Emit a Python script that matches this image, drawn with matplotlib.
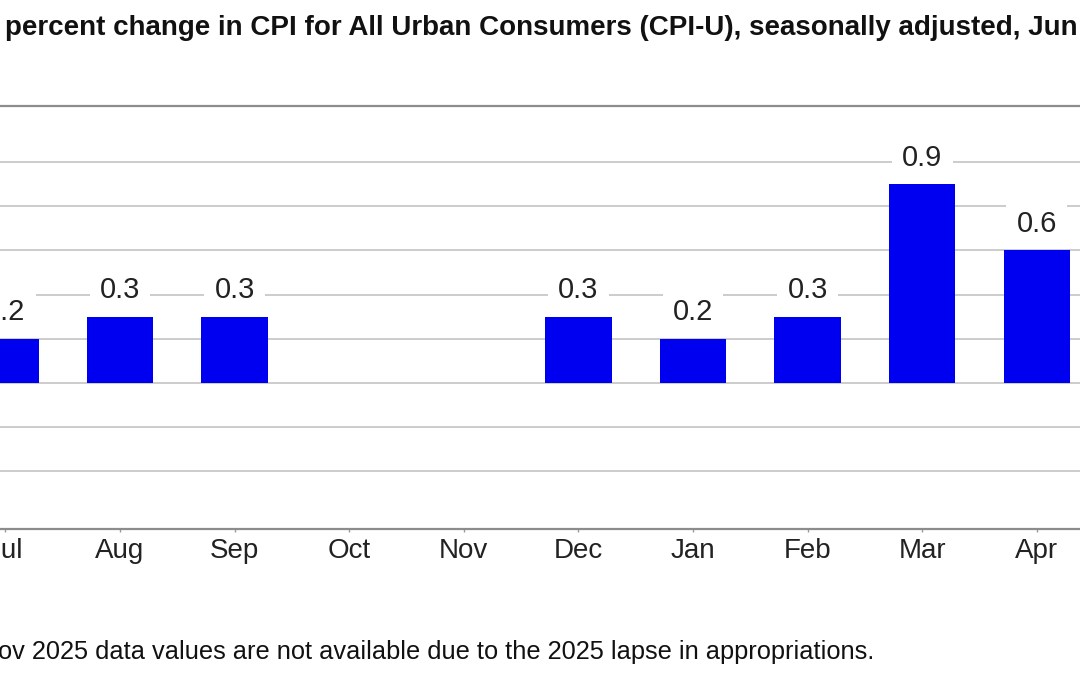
import numpy as np
import matplotlib
matplotlib.use("Agg")
import matplotlib.pyplot as plt

# ── Data ───────────────────────────────────────────────────────────────────
months = ["Jul", "Aug", "Sep", "Oct", "Nov", "Dec", "Jan", "Feb", "Mar", "Apr"]
pct_change = [0.2, 0.3, 0.3, np.nan, np.nan, 0.3, 0.2, 0.3, 0.9, 0.6]
grid_ticks = [-0.4, -0.2, 0.0, 0.2, 0.4, 0.6, 0.8, 1.0]

TITLE = ("percent change in CPI for All Urban Consumers (CPI-U), "
         "seasonally adjusted, Jun 2025 - May 2026")
NOTE = "ov 2025 data values are not available due to the 2025 lapse in appropriations."

plt.rcParams["font.family"] = ["Liberation Sans", "DejaVu Sans"]

W, H = 1080, 675
fig = plt.figure(figsize=(W / 100, H / 100), dpi=100)

# axes run past both edges of the picture (the reference is a crop)
ax_top, ax_bot = 105.7, 529
ax = fig.add_axes([0, 1 - ax_bot / H, 1, (ax_bot - ax_top) / H])

x = np.arange(len(months))
vals = np.array(pct_change, dtype=float)
ax.bar(x, vals, width=0.58, color="#0000f0", edgecolor="none", zorder=2)

for xi, v in zip(x, vals):
    if np.isnan(v):
        continue
    ax.annotate(f"{v:.1f}", (xi, v), xytext=(0, 19), textcoords="offset points",
                ha="center", va="center", fontsize=21, color="#222222", zorder=3,
                bbox=dict(boxstyle="square,pad=0.35", fc="white", ec="none"))

px_per_cat = 114.6
x0 = 5.4
ax.set_xlim(-x0 / px_per_cat, (W - x0) / px_per_cat)
zero_px, px_per_unit = 383, 221
ax.set_ylim(-(ax_bot - zero_px) / px_per_unit, (zero_px - ax_top) / px_per_unit)

ax.set_yticks(grid_ticks)
ax.set_yticklabels([])
ax.tick_params(axis="y", length=0)
ax.yaxis.grid(True, color="#c8c8c8", linewidth=1.3)
ax.set_axisbelow(True)

ax.set_xticks(x)
ax.set_xticklabels(months)
ax.tick_params(axis="x", direction="out", length=2.5, width=1, color="#999999",
               labelsize=20, labelcolor="#222222", pad=4)

for side in ["left", "right"]:
    ax.spines[side].set_visible(False)
ax.spines["top"].set_color("#8c8c8c")
ax.spines["top"].set_linewidth(1.6)
ax.spines["bottom"].set_color("#8c8c8c")
ax.spines["bottom"].set_linewidth(1.6)

fig.text(5 / W, 1 - 28 / H, TITLE, ha="left", va="center",
         fontsize=20, fontweight="bold", color="#111111")
fig.text(-2 / W, 1 - 652 / H, NOTE, ha="left", va="center",
         fontsize=18.3, color="#111111")

fig.savefig("out.png", dpi=100)
